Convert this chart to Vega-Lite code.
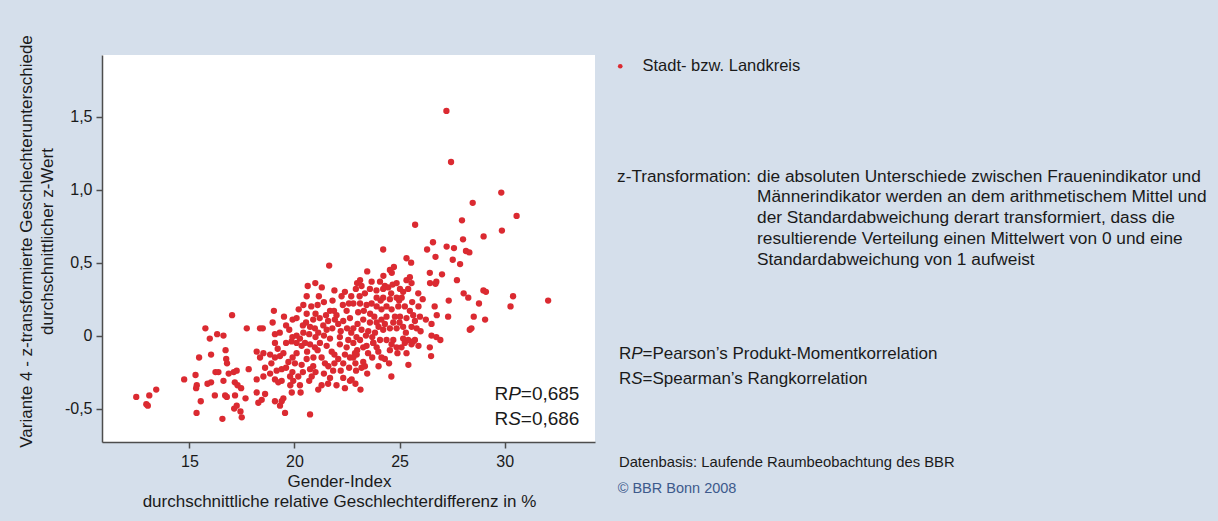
{
  "$schema": "https://vega.github.io/schema/vega-lite/v6.json",
  "width": 493,
  "height": 387,
  "autosize": {"type": "none"},
  "padding": {"left": 102, "top": 55, "right": 623, "bottom": 79},
  "background": "#d5dfeb",
  "config": {
    "view": {"fill": "#ffffff", "stroke": null},
    "font": "Liberation Sans",
    "axis": {
      "labelFont": "Liberation Sans",
      "titleFont": "Liberation Sans",
      "labelColor": "#1a1a1a",
      "titleColor": "#1a1a1a",
      "titleFontWeight": "normal",
      "grid": false,
      "domainColor": "#4d4d4d",
      "domainWidth": 1.5,
      "tickColor": "#4d4d4d",
      "tickWidth": 1.5,
      "tickSize": 6,
      "labelFontSize": 16,
      "titleFontSize": 17
    }
  },
  "layer": [
    {
      "data": {"values": [
        {"g":27.23,"z":1.54},{"g":27.45,"z":1.19},{"g":29.84,"z":0.98},{"g":28.48,"z":0.91},{"g":30.57,"z":0.82},{"g":27.97,"z":0.79},{"g":25.74,"z":0.76},{"g":29.87,"z":0.72},
        {"g":29.00,"z":0.68},{"g":28.02,"z":0.66},{"g":26.59,"z":0.64},{"g":27.24,"z":0.61},{"g":27.59,"z":0.60},{"g":26.31,"z":0.59},{"g":26.71,"z":0.54},{"g":28.16,"z":0.58},{"g":28.32,"z":0.57},{"g":24.22,"z":0.59},{"g":25.33,"z":0.53},{"g":25.55,"z":0.50},{"g":27.53,"z":0.52},{"g":27.88,"z":0.49},{"g":24.73,"z":0.47},{"g":24.54,"z":0.45},{"g":24.23,"z":0.41},{"g":24.63,"z":0.43},{"g":23.46,"z":0.44},{"g":26.44,"z":0.43},{"g":27.02,"z":0.42},{"g":26.75,"z":0.37},{"g":26.71,"z":0.355},{"g":26.45,"z":0.36},{"g":27.73,"z":0.38},{"g":28.99,"z":0.31},{"g":29.11,"z":0.30},{"g":28.05,"z":0.29},{"g":28.27,"z":0.26},{"g":30.40,"z":0.27},{"g":30.28,"z":0.20},{"g":32.07,"z":0.24},{"g":27.34,"z":0.24},{"g":26.67,"z":0.20},{"g":26.77,"z":0.14},{"g":27.31,"z":0.13},{"g":28.78,"z":0.22},{"g":28.53,"z":0.13},{"g":29.07,"z":0.11},{"g":28.34,"z":0.04},{"g":28.42,"z":0.05},{"g":26.25,"z":0.11},{"g":26.52,"z":0.00},{"g":26.75,"z":-0.01},{"g":26.94,"z":-0.03},{"g":26.44,"z":-0.08},{"g":26.50,"z":-0.14},{"g":25.42,"z":-0.20},{"g":24.61,"z":-0.28},{"g":23.14,"z":-0.37},
        {"g":12.47,"z":-0.42},{"g":13.09,"z":-0.41},{"g":13.42,"z":-0.37},{"g":12.95,"z":-0.47},{"g":13.02,"z":-0.48},{"g":14.75,"z":-0.30},{"g":15.29,"z":-0.27},{"g":15.35,"z":-0.34},{"g":15.32,"z":-0.36},{"g":15.46,"z":-0.15},{"g":15.54,"z":-0.45},{"g":15.34,"z":-0.53},{"g":15.76,"z":0.05},{"g":15.97,"z":-0.02},{"g":16.32,"z":0.01},{"g":16.62,"z":0.00},{"g":16.03,"z":-0.13},{"g":16.72,"z":-0.10},{"g":16.75,"z":-0.16},{"g":16.79,"z":-0.19},{"g":16.24,"z":-0.25},{"g":16.38,"z":-0.25},{"g":16.03,"z":-0.32},{"g":15.86,"z":-0.33},{"g":16.21,"z":-0.41},{"g":16.62,"z":-0.31},{"g":16.70,"z":-0.41},{"g":16.78,"z":-0.42},{"g":16.57,"z":-0.57},{"g":16.87,"z":-0.26},{"g":17.11,"z":-0.25},{"g":17.25,"z":-0.24},{"g":17.16,"z":-0.32},{"g":17.29,"z":-0.34},{"g":17.46,"z":-0.36},{"g":17.17,"z":-0.41},{"g":17.13,"z":-0.50},{"g":17.25,"z":-0.48},{"g":17.43,"z":-0.52},{"g":17.49,"z":-0.56},{"g":17.67,"z":-0.43},{"g":17.03,"z":0.14},{"g":17.73,"z":0.05},{"g":17.82,"z":-0.23},
        {"g":21.65,"z":0.48},{"g":20.99,"z":0.36},{"g":20.63,"z":0.34},{"g":21.16,"z":0.27},{"g":20.58,"z":0.27},{"g":21.40,"z":0.23},{"g":21.81,"z":0.24},{"g":22.24,"z":0.27},{"g":20.42,"z":0.21},{"g":22.59,"z":0.22},{"g":22.80,"z":0.22},{"g":22.92,"z":0.32},{"g":22.98,"z":0.36},{"g":19.02,"z":0.17},{"g":21.69,"z":0.17},{"g":21.88,"z":0.17},{"g":22.48,"z":0.17},{"g":23.03,"z":0.16},{"g":20.58,"z":0.15},{"g":19.50,"z":0.13},{"g":19.91,"z":0.11},{"g":20.10,"z":0.12},{"g":20.55,"z":0.09},{"g":20.89,"z":0.11},{"g":18.96,"z":0.09},{"g":18.49,"z":0.05},{"g":18.36,"z":0.05},{"g":19.75,"z":0.04},{"g":20.74,"z":0.06},{"g":20.97,"z":0.05},{"g":21.37,"z":0.07},{"g":21.53,"z":0.04},{"g":21.92,"z":0.11},{"g":22.08,"z":0.08},{"g":22.32,"z":0.10},{"g":22.64,"z":0.12},{"g":22.80,"z":0.05},{"g":19.07,"z":0.01},{"g":20.10,"z":0.00},{"g":20.26,"z":-0.02},{"g":20.42,"z":0.02},{"g":21.13,"z":0.02},{"g":21.69,"z":-0.02},{"g":22.16,"z":-0.01},{"g":22.56,"z":-0.03},{"g":22.95,"z":-0.01},
        {"g":19.07,"z":-0.05},{"g":19.60,"z":-0.05},{"g":19.86,"z":-0.04},{"g":20.10,"z":-0.05},{"g":20.34,"z":-0.07},{"g":20.50,"z":-0.05},{"g":20.74,"z":-0.06},{"g":20.97,"z":-0.08},{"g":21.21,"z":-0.05},{"g":21.53,"z":-0.07},{"g":21.77,"z":-0.11},{"g":22.16,"z":-0.06},{"g":22.48,"z":-0.08},{"g":22.80,"z":-0.05},{"g":22.98,"z":-0.10},{"g":18.20,"z":-0.11},{"g":18.52,"z":-0.12},{"g":18.36,"z":-0.15},{"g":18.84,"z":-0.13},{"g":19.07,"z":-0.15},{"g":19.31,"z":-0.14},{"g":19.47,"z":-0.12},{"g":19.71,"z":-0.18},{"g":20.02,"z":-0.19},{"g":19.91,"z":-0.15},{"g":20.34,"z":-0.20},{"g":20.58,"z":-0.16},{"g":20.74,"z":-0.23},{"g":20.89,"z":-0.21},{"g":21.29,"z":-0.15},{"g":21.45,"z":-0.19},{"g":21.61,"z":-0.21},{"g":21.84,"z":-0.24},{"g":22.08,"z":-0.16},{"g":22.32,"z":-0.19},{"g":22.64,"z":-0.15},{"g":18.60,"z":-0.22},{"g":18.84,"z":-0.26},{"g":19.15,"z":-0.24},{"g":19.39,"z":-0.23},{"g":19.07,"z":-0.30},{"g":19.23,"z":-0.32},{"g":19.39,"z":-0.31},{"g":18.20,"z":-0.30},{"g":18.52,"z":-0.28},{"g":19.79,"z":-0.28},{"g":19.94,"z":-0.31},{"g":20.18,"z":-0.28},{"g":20.26,"z":-0.34},{"g":20.70,"z":-0.31},{"g":20.82,"z":-0.28},{"g":21.13,"z":-0.37},{"g":21.29,"z":-0.34},{"g":21.69,"z":-0.29},{"g":22.00,"z":-0.34},{"g":22.32,"z":-0.29},{"g":22.64,"z":-0.31},{"g":22.40,"z":-0.36},{"g":18.20,"z":-0.39},{"g":18.60,"z":-0.40},{"g":18.44,"z":-0.44},{"g":18.28,"z":-0.46},{"g":19.07,"z":-0.45},{"g":19.47,"z":-0.43},{"g":19.39,"z":-0.45},{"g":19.31,"z":-0.48},{"g":19.55,"z":-0.53},{"g":19.87,"z":-0.39},{"g":20.29,"z":-0.39},{"g":20.74,"z":-0.54},
        {"g":23.12,"z":0.38},{"g":23.19,"z":0.34},{"g":23.35,"z":0.29},{"g":23.12,"z":0.22},{"g":23.43,"z":0.21},{"g":23.67,"z":0.22},{"g":23.91,"z":0.26},{"g":23.59,"z":0.32},{"g":23.67,"z":0.37},{"g":24.07,"z":0.37},{"g":24.30,"z":0.34},{"g":24.22,"z":0.32},{"g":24.46,"z":0.33},{"g":24.67,"z":0.35},{"g":24.86,"z":0.36},{"g":25.02,"z":0.32},{"g":25.17,"z":0.30},{"g":25.41,"z":0.32},{"g":25.57,"z":0.36},{"g":25.33,"z":0.38},{"g":25.49,"z":0.40},{"g":25.89,"z":0.29},{"g":24.86,"z":0.26},{"g":24.54,"z":0.25},{"g":24.22,"z":0.26},{"g":23.91,"z":0.20},{"g":24.14,"z":0.18},{"g":24.38,"z":0.20},{"g":24.62,"z":0.18},{"g":24.94,"z":0.20},{"g":24.98,"z":0.24},{"g":25.25,"z":0.20},{"g":25.49,"z":0.17},{"g":25.65,"z":0.14},{"g":25.97,"z":0.13},{"g":25.73,"z":0.10},{"g":25.33,"z":0.12},{"g":25.02,"z":0.13},{"g":24.78,"z":0.13},{"g":24.38,"z":0.13},{"g":24.14,"z":0.11},{"g":23.91,"z":0.09},{"g":23.59,"z":0.09},{"g":23.27,"z":0.11},{"g":23.19,"z":0.04},{"g":23.51,"z":0.03},{"g":23.83,"z":0.02},{"g":24.22,"z":0.04},{"g":24.54,"z":0.05},{"g":24.86,"z":0.05},{"g":25.17,"z":0.06},{"g":25.57,"z":0.06},{"g":25.81,"z":0.05},{"g":24.07,"z":-0.03},{"g":23.75,"z":-0.05},{"g":23.43,"z":-0.07},{"g":23.12,"z":-0.03},{"g":24.70,"z":-0.03},{"g":25.17,"z":-0.02},{"g":25.41,"z":-0.03},{"g":25.73,"z":-0.03},{"g":26.52,"z":0.08},
        {"g":22.88,"z":-0.12},{"g":22.96,"z":-0.13},{"g":22.80,"z":-0.15},{"g":23.27,"z":-0.08},{"g":23.75,"z":-0.05},{"g":23.91,"z":-0.08},{"g":23.99,"z":-0.11},{"g":24.38,"z":-0.03},{"g":24.62,"z":-0.06},{"g":24.54,"z":-0.10},{"g":24.86,"z":-0.08},{"g":25.09,"z":-0.08},{"g":25.25,"z":-0.05},{"g":25.57,"z":-0.06},{"g":25.65,"z":-0.04},{"g":25.33,"z":-0.12},{"g":24.14,"z":-0.15},{"g":24.30,"z":-0.16},{"g":23.27,"z":-0.18},{"g":23.35,"z":-0.21},{"g":23.19,"z":-0.22},{"g":23.46,"z":-0.26},{"g":22.93,"z":-0.24},{"g":22.72,"z":-0.30},
        {"g":20.2,"z":0.18},{"g":20.8,"z":0.20},{"g":21.0,"z":0.15},{"g":21.2,"z":0.12},{"g":21.5,"z":0.14},{"g":21.1,"z":0.21},{"g":20.4,"z":0.07},{"g":20.7,"z":0.01},{"g":21.0,"z":-0.01},{"g":21.4,"z":0.00},{"g":21.8,"z":0.05},{"g":22.0,"z":0.14},{"g":22.3,"z":0.21},{"g":22.5,"z":0.05},{"g":22.7,"z":0.02},{"g":22.2,"z":0.03},{"g":21.6,"z":0.10},{"g":19.6,"z":0.07},{"g":19.3,"z":0.02},{"g":19.9,"z":-0.01},{"g":22.4,"z":0.30},{"g":22.7,"z":0.27},{"g":21.9,"z":0.31},{"g":21.3,"z":0.33},
        {"g":19.6,"z":-0.22},{"g":19.9,"z":-0.25},{"g":20.4,"z":-0.25},{"g":20.9,"z":-0.15},{"g":21.0,"z":-0.25},{"g":21.4,"z":-0.26},{"g":21.9,"z":-0.19},{"g":22.2,"z":-0.24},{"g":22.6,"z":-0.22},{"g":22.9,"z":-0.19},{"g":20.1,"z":-0.12},{"g":20.6,"z":-0.11},{"g":21.1,"z":-0.10},{"g":21.9,"z":-0.13},{"g":22.4,"z":-0.13},{"g":19.2,"z":-0.09},{"g":18.9,"z":-0.19},{"g":19.8,"z":-0.34},{"g":21.6,"z":-0.33},{"g":22.9,"z":-0.33},
        {"g":23.3,"z":0.17},{"g":23.6,"z":0.15},{"g":23.8,"z":0.13},{"g":23.4,"z":0.00},{"g":23.7,"z":-0.01},{"g":24.0,"z":0.06},{"g":24.3,"z":0.08},{"g":24.7,"z":0.09},{"g":25.0,"z":0.09},{"g":25.3,"z":0.02},{"g":23.9,"z":0.31},{"g":24.1,"z":0.24},{"g":24.6,"z":0.29},{"g":25.1,"z":0.26},{"g":25.6,"z":0.23},{"g":25.9,"z":0.20},{"g":26.1,"z":0.25},{"g":26.0,"z":0.03},{"g":25.9,"z":-0.07},{"g":24.9,"z":-0.12},{"g":24.5,"z":-0.19},{"g":24.0,"z":-0.21},{"g":23.7,"z":-0.15},{"g":23.5,"z":-0.12},{"g":23.0,"z":0.08},{"g":23.1,"z":0.27}
      ]},
      "mark": {"type": "circle", "size": 40, "opacity": 1},
      "encoding": {
        "x": {
          "field": "g", "type": "quantitative",
          "scale": {"domain": [10.84, 34.3], "nice": false, "zero": false},
          "axis": {
            "values": [15, 20, 25, 30],
            "title": ["Gender-Index", "durchschnittliche relative Geschlechterdifferenz in %"],
            "titleLineHeight": 20,
            "titlePadding": 4,
            "labelPadding": 5,
            "titleX": 237
          }
        },
        "y": {
          "field": "z", "type": "quantitative",
          "scale": {"domain": [-0.729, 1.923], "nice": false, "zero": false},
          "axis": {
            "values": [-0.5, 0, 0.5, 1, 1.5],
            "labelExpr": "datum.value == 0 ? '0' : replace(replace(format(datum.value, '.1f'), '.', ','), '\u2212', '-')",
            "title": ["Variante 4 - z-transformierte Geschlechterunterschiede", "durchschnittlicher z-Wert"],
            "titleLineHeight": 21,
            "titlePadding": 8,
            "labelPadding": 4,
            "titleY": 186
          }
        },
        "color": {
          "datum": "Stadt- bzw. Landkreis", "type": "nominal",
          "scale": {"range": ["#db2a31"]},
          "legend": {
            "title": null, "orient": "none", "legendX": 510, "legendY": 3,
            "symbolSize": 22, "symbolType": "circle", "labelFontSize": 16.5,
            "labelOffset": 14, "padding": 0, "labelColor": "#1a1a1a", "labelFont": "Liberation Sans"
          }
        }
      }
    },
    {
      "data": {"values": [{"t": "z-Transformation:"}]},
      "mark": {"type": "text", "align": "left", "baseline": "middle", "fontSize": 17.2, "font": "Liberation Sans", "color": "#1a1a1a"},
      "encoding": {"x": {"datum": 35.35, "type": "quantitative"}, "y": {"datum": 1.089, "type": "quantitative"}, "text": {"field": "t"}}
    },
    {
      "data": {"values": [{"t": "die absoluten Unterschiede zwischen Frauenindikator und\nMännerindikator werden an dem arithmetischem Mittel und\nder Standardabweichung derart transformiert, dass die\nresultierende Verteilung einen Mittelwert von 0 und eine\nStandardabweichung von 1 aufweist"}]},
      "mark": {"type": "text", "align": "left", "baseline": "middle", "fontSize": 17.3, "font": "Liberation Sans", "color": "#1a1a1a", "lineBreak": "\n", "lineHeight": 20.7},
      "encoding": {"x": {"datum": 42.01, "type": "quantitative"}, "y": {"datum": 1.089, "type": "quantitative"}, "text": {"field": "t"}}
    },
    {
      "data": {"values": [{"t": "R\nR"}]},
      "mark": {"type": "text", "align": "left", "baseline": "middle", "fontSize": 17, "font": "Liberation Sans", "color": "#1a1a1a", "lineBreak": "\n", "lineHeight": 25},
      "encoding": {"x": {"datum": 35.44, "type": "quantitative"}, "y": {"datum": -0.126, "type": "quantitative"}, "text": {"field": "t"}}
    },
    {
      "data": {"values": [{"t": "P\nS"}]},
      "mark": {"type": "text", "align": "left", "baseline": "middle", "fontSize": 17, "font": "Liberation Sans", "fontStyle": "italic", "color": "#1a1a1a", "lineBreak": "\n", "lineHeight": 25},
      "encoding": {"x": {"datum": 36.02, "type": "quantitative"}, "y": {"datum": -0.126, "type": "quantitative"}, "text": {"field": "t"}}
    },
    {
      "data": {"values": [{"t": "=Pearson’s Produkt-Momentkorrelation\n=Spearman’s Rangkorrelation"}]},
      "mark": {"type": "text", "align": "left", "baseline": "middle", "fontSize": 17, "font": "Liberation Sans", "color": "#1a1a1a", "lineBreak": "\n", "lineHeight": 25},
      "encoding": {"x": {"datum": 36.56, "type": "quantitative"}, "y": {"datum": -0.126, "type": "quantitative"}, "text": {"field": "t"}}
    },
    {
      "data": {"values": [{"t": "Datenbasis: Laufende Raumbeobachtung des BBR"}]},
      "mark": {"type": "text", "align": "left", "baseline": "middle", "fontSize": 14.8, "font": "Liberation Sans", "color": "#1a1a1a"},
      "encoding": {"x": {"datum": 35.44, "type": "quantitative"}, "y": {"datum": -0.871, "type": "quantitative"}, "text": {"field": "t"}}
    },
    {
      "data": {"values": [{"t": "© BBR Bonn 2008"}]},
      "mark": {"type": "text", "align": "left", "baseline": "middle", "fontSize": 14.5, "font": "Liberation Sans", "color": "#3d5a8c"},
      "encoding": {"x": {"datum": 35.38, "type": "quantitative"}, "y": {"datum": -1.053, "type": "quantitative"}, "text": {"field": "t"}}
    },
    {
      "data": {"values": [{"t": "R\nR"}]},
      "mark": {"type": "text", "align": "right", "baseline": "middle", "fontSize": 19, "font": "Liberation Sans", "color": "#1a1a1a", "lineBreak": "\n", "lineHeight": 25},
      "encoding": {"x": {"datum": 30.17, "type": "quantitative"}, "y": {"datum": -0.400, "type": "quantitative"}, "text": {"field": "t"}}
    },
    {
      "data": {"values": [{"t": "P\nS"}]},
      "mark": {"type": "text", "align": "right", "baseline": "middle", "fontSize": 19, "font": "Liberation Sans", "fontStyle": "italic", "color": "#1a1a1a", "lineBreak": "\n", "lineHeight": 25},
      "encoding": {"x": {"datum": 30.77, "type": "quantitative"}, "y": {"datum": -0.400, "type": "quantitative"}, "text": {"field": "t"}}
    },
    {
      "data": {"values": [{"t": "=0,685\n=0,686"}]},
      "mark": {"type": "text", "align": "right", "baseline": "middle", "fontSize": 19, "font": "Liberation Sans", "color": "#1a1a1a", "lineBreak": "\n", "lineHeight": 25},
      "encoding": {"x": {"datum": 33.56, "type": "quantitative"}, "y": {"datum": -0.400, "type": "quantitative"}, "text": {"field": "t"}}
    }
  ]
}
